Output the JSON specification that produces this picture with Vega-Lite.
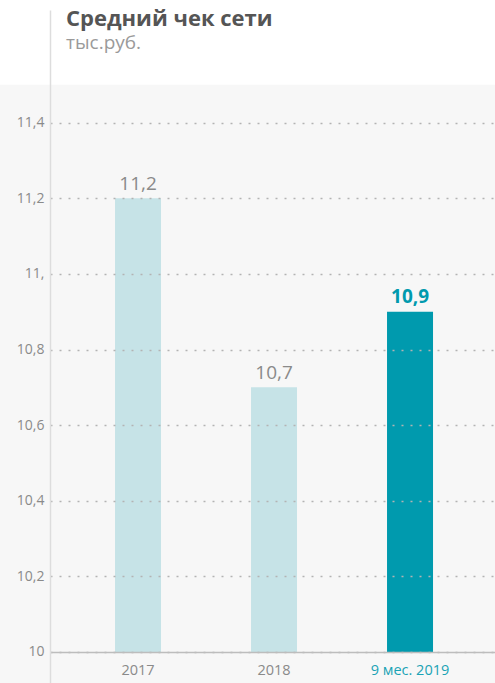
{
  "$schema": "https://vega.github.io/schema/vega-lite/v6.json",
  "width": 495,
  "height": 683,
  "autosize": {"type": "fit", "contains": "padding"},
  "padding": 0,
  "background": "#ffffff",
  "title": {
    "text": "Средний чек сети",
    "subtitle": "тыс.руб.",
    "anchor": "start",
    "frame": "group",
    "dx": 66,
    "offset": -54,
    "font": "Open Sans",
    "fontSize": 22,
    "fontWeight": "bold",
    "color": "#555555",
    "subtitleFont": "Open Sans",
    "subtitleFontSize": 19,
    "subtitleColor": "#9a9a9a",
    "subtitlePadding": 3
  },
  "config": {
    "view": {"stroke": null},
    "font": "Open Sans",
    "locale": {"number": {"decimal": ",", "thousands": " ", "grouping": [3], "currency": ["", " ₽"]}}
  },
  "data": {
    "values": [
      {"period": "2017", "value": 11.2, "current": false},
      {"period": "2018", "value": 10.7, "current": false},
      {"period": "9 мес. 2019", "value": 10.9, "current": true}
    ]
  },
  "layer": [
    {
      "data": {"values": [{}]},
      "mark": {"type": "rect", "color": "#f7f7f7"},
      "encoding": {
        "y": {"datum": 11.5, "type": "quantitative"},
        "y2": {"datum": 9.918}
      }
    },
    {
      "mark": {"type": "bar", "size": 46},
      "encoding": {
        "x": {
          "field": "period",
          "type": "nominal",
          "sort": null,
          "scale": {"range": [50, 495], "paddingInner": 0.662, "paddingOuter": 0.467, "align": 0.512},
          "axis": {
            "title": null,
            "orient": "bottom",
            "offset": -31,
            "zindex": 1,
            "domainColor": "#bdbdbd",
            "domainWidth": 1.5,
            "ticks": false,
            "labelAngle": 0,
            "labelPadding": 11,
            "labelFontSize": 14.5,
            "labelColor": {"condition": {"test": "datum.value == '9 мес. 2019'", "value": "#1aa3b5"}, "value": "#8a8a8a"}
          }
        },
        "y": {
          "field": "value",
          "type": "quantitative",
          "scale": {"domain": [9.918, 11.698], "range": [683, 10], "nice": false, "zero": false},
          "axis": {
            "title": null,
            "offset": -50,
            "zindex": 1,
            "values": [10, 10.2, 10.4, 10.6, 10.8, 11, 11.2, 11.4],
            "labelExpr": "datum.value == 10 ? '10' : datum.value == 11 ? '11,' : replace(format(datum.value, '.1f'), '.', ',')",
            "domainColor": "#dddddd",
            "domainWidth": 1.5,
            "ticks": false,
            "labelPadding": 6,
            "labelFontSize": 14,
            "labelColor": "#8a8a8a",
            "grid": true,
            "gridColor": "#b3b3b3",
            "gridWidth": 1.5,
            "gridDash": [2, 7]
          }
        },
        "y2": {"datum": 10},
        "color": {
          "field": "current",
          "type": "nominal",
          "scale": {"domain": [false, true], "range": ["#c6e3e7", "#009aae"]},
          "legend": null
        }
      }
    },
    {
      "transform": [{"filter": "!datum.current"}],
      "mark": {"type": "text", "baseline": "alphabetic", "dy": -8, "fontSize": 19, "color": "#8a8a8a"},
      "encoding": {
        "x": {"field": "period", "type": "nominal", "sort": null},
        "y": {"field": "value", "type": "quantitative"},
        "text": {"field": "value", "type": "quantitative", "format": ".1f"}
      }
    },
    {
      "transform": [{"filter": "datum.current"}],
      "mark": {"type": "text", "baseline": "alphabetic", "dy": -9, "fontSize": 19, "fontWeight": "bold", "color": "#009aae"},
      "encoding": {
        "x": {"field": "period", "type": "nominal", "sort": null},
        "y": {"field": "value", "type": "quantitative"},
        "text": {"field": "value", "type": "quantitative", "format": ".1f"}
      }
    }
  ]
}
